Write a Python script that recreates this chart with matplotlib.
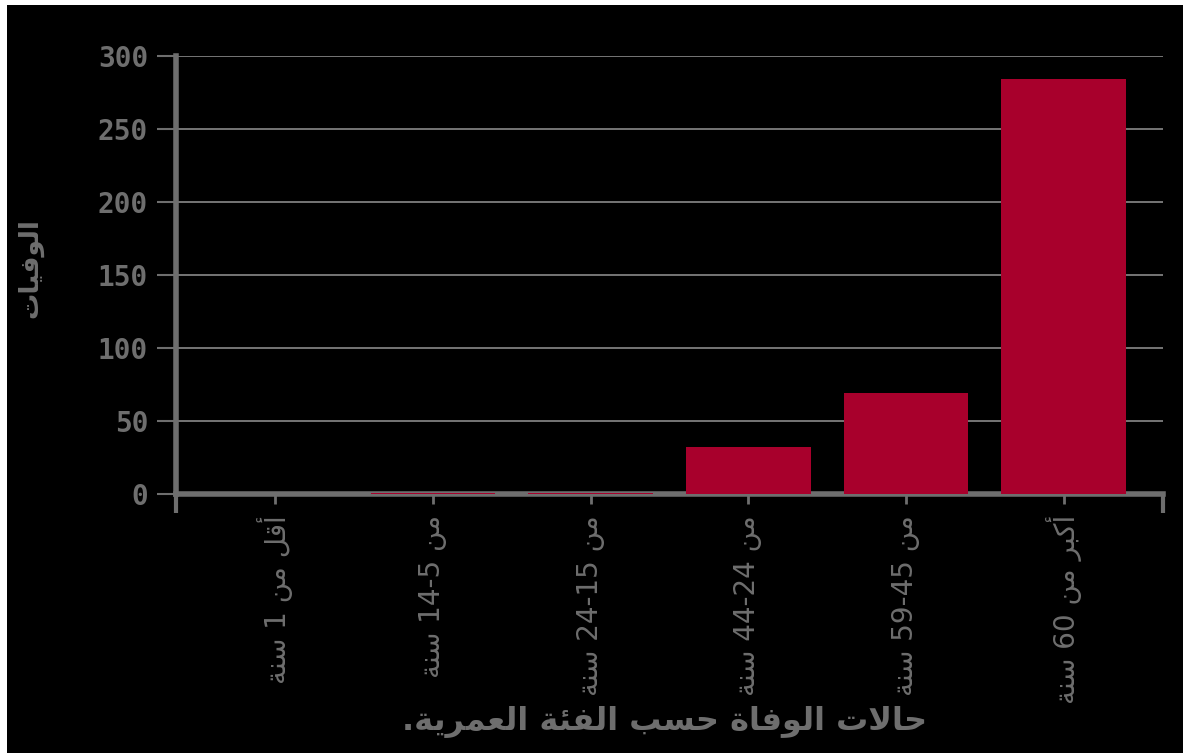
import matplotlib
matplotlib.use("Agg")
import matplotlib.pyplot as plt
from matplotlib.patches import Rectangle

# chart data (labels in logical order, as they appear on the picture)
categories = ["أقل من 1 سنة", "من 14-5 سنة", "من 24-15 سنة",
              "من 44-24 سنة", "من 59-45 سنة", "أكبر من 60 سنة"]
deaths = [0, 1, 1, 32, 69, 284]
y_ticks = [0, 50, 100, 150, 200, 250, 300]
x_title = "حالات الوفاة حسب الفئة العمرية."
y_title = "الوفيات"

# matplotlib has no Arabic shaping, so map letters to presentation forms
# (isolated, final, initial, medial); None = does not join to next letter
FORMS = {
    'ء': ('\uFE80', None, None, None),
    'آ': ('\uFE81', '\uFE82', None, None),
    'أ': ('\uFE83', '\uFE84', None, None),
    'إ': ('\uFE87', '\uFE88', None, None),
    'ئ': ('\uFE89', '\uFE8A', '\uFE8B', '\uFE8C'),
    'ا': ('\uFE8D', '\uFE8E', None, None),
    'ب': ('\uFE8F', '\uFE90', '\uFE91', '\uFE92'),
    'ة': ('\uFE93', '\uFE94', None, None),
    'ت': ('\uFE95', '\uFE96', '\uFE97', '\uFE98'),
    'ح': ('\uFEA1', '\uFEA2', '\uFEA3', '\uFEA4'),
    'ر': ('\uFEAD', '\uFEAE', None, None),
    'س': ('\uFEB1', '\uFEB2', '\uFEB3', '\uFEB4'),
    'ع': ('\uFEC9', '\uFECA', '\uFECB', '\uFECC'),
    'ف': ('\uFED1', '\uFED2', '\uFED3', '\uFED4'),
    'ق': ('\uFED5', '\uFED6', '\uFED7', '\uFED8'),
    'ك': ('\uFED9', '\uFEDA', '\uFEDB', '\uFEDC'),
    'ل': ('\uFEDD', '\uFEDE', '\uFEDF', '\uFEE0'),
    'م': ('\uFEE1', '\uFEE2', '\uFEE3', '\uFEE4'),
    'ن': ('\uFEE5', '\uFEE6', '\uFEE7', '\uFEE8'),
    'و': ('\uFEED', '\uFEEE', None, None),
    'ي': ('\uFEF1', '\uFEF2', '\uFEF3', '\uFEF4'),
}
LAM_ALEF = {'آ': ('\uFEF5', '\uFEF6'), 'أ': ('\uFEF7', '\uFEF8'),
            'إ': ('\uFEF9', '\uFEFA'), 'ا': ('\uFEFB', '\uFEFC')}


def joins_forward(ch):
    return ch in FORMS and FORMS[ch][2] is not None


def shape_word(w):
    res = []
    i = 0
    while i < len(w):
        ch = w[i]
        prev = w[i - 1] if i > 0 else None
        nxt = w[i + 1] if i + 1 < len(w) else None
        if ch not in FORMS:
            res.append(ch)
            i += 1
            continue
        jp = joins_forward(prev)
        if ch == 'ل' and nxt in LAM_ALEF:
            res.append(LAM_ALEF[nxt][1 if jp else 0])
            i += 2
            continue
        jn = joins_forward(ch) and nxt in FORMS
        f = FORMS[ch]
        if jp and jn:
            res.append(f[3])
        elif jp:
            res.append(f[1])
        elif jn:
            res.append(f[2])
        else:
            res.append(f[0])
        i += 1
    return ''.join(reversed(res))


def to_visual(text):
    words = []
    for w in text.split(' '):
        if any(c in FORMS for c in w):
            tail = ''
            if w.endswith('.'):
                w, tail = w[:-1], '.'
            words.append(tail + shape_word(w))
        else:
            words.append(w)
    return ' '.join(reversed(words))


grey = '#6e6e6e'
fig = plt.figure(figsize=(11.83, 7.53), dpi=100)
fig.patch.set_facecolor('white')
fig.patches.append(Rectangle((7 / 1183, 0), 1, 1 - 5 / 753, transform=fig.transFigure,
                             facecolor='black', edgecolor='none', zorder=-10))

ax = fig.add_axes([176 / 1183, 1 - 494 / 753, (1163 - 176) / 1183, (494 - 56) / 753])
ax.set_facecolor('black')

x = list(range(len(categories)))
ax.bar(x, deaths, width=0.79, color='#a8002c', zorder=5)

ax.set_xlim(-0.63, 5.63)
ax.set_ylim(0, 300)
ax.set_yticks(y_ticks)
ax.set_yticklabels([str(v) for v in y_ticks], family='DejaVu Sans Mono',
                   fontweight='bold', fontsize=20, color=grey)
ax.set_xticks(x)
ax.set_xticklabels([to_visual(c) for c in categories], rotation=90,
                   family='DejaVu Sans', fontsize=20, color=grey)
ax.set_xticks([-0.63, 5.63], minor=True)
ax.tick_params(axis='x', which='major', length=7, width=2, color=grey, pad=8)
ax.tick_params(axis='x', which='minor', length=14, width=3, color=grey)
ax.tick_params(axis='y', length=14, width=1.5, color=grey, pad=6)

ax.grid(axis='y', color='#8a8a8a', linewidth=1.2, zorder=0)
for s in ['top', 'right']:
    ax.spines[s].set_visible(False)
ax.spines['left'].set_color(grey)
ax.spines['left'].set_linewidth(4)
ax.spines['bottom'].set_color(grey)
ax.spines['bottom'].set_linewidth(4)
ax.spines['bottom'].set_zorder(4)

fig.text(665 / 1183, 1 - 722 / 753, to_visual(x_title), ha='center', va='center',
         family='DejaVu Sans', fontweight='bold', fontsize=23, color=grey)
fig.text(30 / 1183, 1 - 268 / 753, to_visual(y_title), ha='center', va='center',
         rotation=90, family='DejaVu Sans', fontweight='bold', fontsize=19, color=grey)

fig.savefig('out.png', dpi=100, facecolor=fig.get_facecolor())
